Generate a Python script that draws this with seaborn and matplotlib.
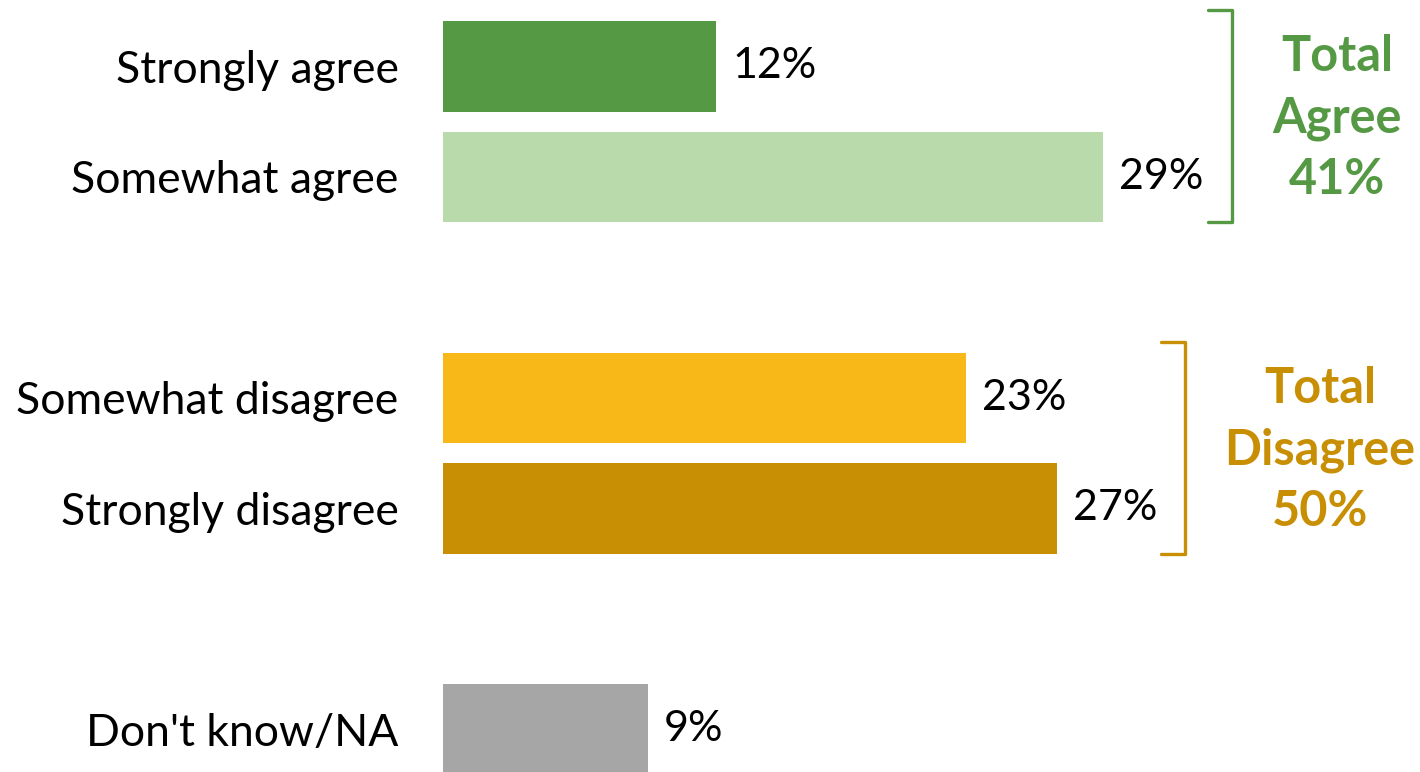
import matplotlib
matplotlib.use("Agg")
import matplotlib.pyplot as plt
import seaborn as sns
import pandas as pd

categories = ["Strongly agree", "Somewhat agree", "Somewhat disagree",
              "Strongly disagree", "Don't know/NA"]
values = [12, 29, 23, 27, 9]
row_positions = [0, 1, 3, 4, 6]
colors = ["#559944", "#b9dbac", "#f8b918", "#c98f04", "#a6a6a6"]

group_labels = ["Total\nAgree\n41%", "Total\nDisagree\n50%"]
group_rows = [(0, 1), (3, 4)]
group_colors = ["#559944", "#c98f04"]

sns.set_theme(style="white")
plt.rcParams["font.family"] = ["Lato", "DejaVu Sans"]

df = pd.DataFrame({"category": categories, "value": values, "pos": row_positions})

W, H = 1420, 772
fig = plt.figure(figsize=(W / 100, H / 100), dpi=100)
px_per_unit = 22.75
left_px = 443
ax = fig.add_axes([left_px / W, 0, 1 - left_px / W, 1])

sns.barplot(data=df, x="value", y="pos", hue="category", palette=dict(zip(categories, colors)),
            orient="h", native_scale=True, dodge=False, width=0.82, legend=False,
            saturation=1, linewidth=0, ax=ax)

row_h = 110.5
top_row = 66.5
ax.set_xlim(0, (W - left_px) / px_per_unit)
ax.set_ylim((H - top_row) / row_h, -top_row / row_h)
ax.set_yticks(row_positions)
ax.set_yticklabels(categories, fontsize=32, color="black")
ax.tick_params(axis="y", length=0, pad=32)
ax.set_xticks([])
ax.set_xlabel("")
ax.set_ylabel("")
for s in ax.spines.values():
    s.set_visible(False)

for v, p in zip(values, row_positions):
    ax.text(v + 16 / px_per_unit, p, f"{v}%", va="center", ha="left", fontsize=31, color="black")

# Brackets and group totals
bracket_x = [1232, 1185]
arm_len = 24
text_x = [1337, 1320]
for (r0, r1), lab, col, bx, tx in zip(group_rows, group_labels, group_colors, bracket_x, text_x):
    xv = (bx - left_px) / px_per_unit
    xa = (bx - arm_len - left_px) / px_per_unit
    y0 = r0 - 0.51
    y1 = r1 + 0.41
    ax.plot([xa, xv, xv, xa], [y0, y0, y1, y1], color=col, lw=2.4,
            solid_joinstyle="round", solid_capstyle="round", clip_on=False)
    ax.text((tx - left_px) / px_per_unit, (r0 + r1) / 2 - 0.03, lab, ha="center", va="center",
            fontsize=35, fontweight="bold", color=col, linespacing=1.44)

fig.savefig("out.png", dpi=100)
